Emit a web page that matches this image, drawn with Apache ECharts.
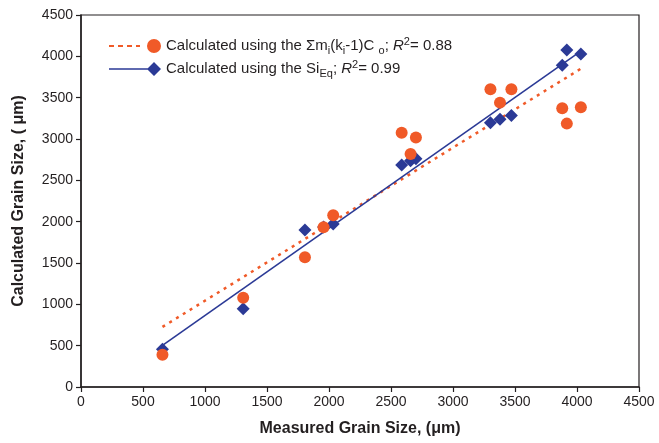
<!DOCTYPE html>
<html>
<head>
<meta charset="utf-8">
<script src="https://cdn.jsdelivr.net/npm/echarts@6/dist/echarts.min.js"></script>
<style>
  html, body { margin: 0; padding: 0; background: #fff; }
  #main { width: 659px; height: 443px; }
</style>
</head>
<body>
<div id="main"></div>
<script>
// measured grain size (x) for each sample
var measured = [657, 1308, 1806, 1956, 2034, 2586, 2658, 2701, 3302, 3379, 3471, 3881, 3918, 4031];
// calculated with the sum m_i(k_i-1)C_o method
var calcSum = [390, 1081, 1569, 1932, 2078, 3077, 2819, 3017, 3602, 3440, 3602, 3372, 3186, 3384];
// calculated with Si_Eq
var calcSiEq = [456, 948, 1900, 1935, 1972, 2686, 2738, 2762, 3198, 3239, 3283, 3893, 4078, 4029];

var nameSum = 'sum';
var nameSi = 'sieq';
var orange = '#F05A28';
var blue = '#2B3A96';

function pairs(xs, ys) {
  var out = [];
  for (var i = 0; i < xs.length; i++) out.push([xs[i], ys[i]]);
  return out;
}

// least squares line between min and max x
function trend(xs, ys) {
  var n = xs.length, mx = 0, my = 0;
  for (var i = 0; i < n; i++) { mx += xs[i]; my += ys[i]; }
  mx /= n; my /= n;
  var sxy = 0, sxx = 0;
  for (var i = 0; i < n; i++) {
    sxy += (xs[i] - mx) * (ys[i] - my);
    sxx += (xs[i] - mx) * (xs[i] - mx);
  }
  var b = sxy / sxx, a = my - b * mx;
  var x0 = Math.min.apply(null, xs), x1 = Math.max.apply(null, xs);
  return [[x0, a + b * x0], [x1, a + b * x1]];
}

var chart = echarts.init(document.getElementById('main'));

var ff = 'Liberation Sans, Arial';
var rich = {
  t: { fontSize: 15, color: '#231F20', fontFamily: ff, lineHeight: 20 },
  s: { fontSize: 11, color: '#231F20', fontFamily: ff, lineHeight: 12, verticalAlign: 'bottom' },
  p: { fontSize: 11, color: '#231F20', fontFamily: ff, lineHeight: 12, verticalAlign: 'top' },
  it: { fontSize: 15, color: '#231F20', fontFamily: ff, lineHeight: 20, fontStyle: 'italic' }
};

var axisCommon = {
  type: 'value',
  min: 0, max: 4500, interval: 500,
  nameLocation: 'middle',
  nameTextStyle: { fontSize: 16, fontWeight: 'bold', color: '#231F20', fontFamily: ff },
  axisLine: { show: true, lineStyle: { color: '#231F20', width: 1.5 } },
  axisTick: { show: true, inside: false, length: 5, lineStyle: { color: '#231F20', width: 1.2 } },
  axisLabel: { fontSize: 14, color: '#231F20', margin: 8, fontFamily: ff, formatter: function (v) { return String(v); } },
  splitLine: { show: false }
};

var option = {
  backgroundColor: '#fff',
  animation: false,
  grid: { left: 81, right: 20, top: 15, bottom: 56, show: true, borderColor: '#231F20', borderWidth: 1.2 },
  legend: {
    orient: 'vertical',
    left: 104,
    top: 31,
    itemGap: 3,
    itemWidth: 52,
    itemHeight: 14,
    data: [
      { name: nameSum, icon: 'path://M0,6L5,6L5,8L0,8ZM9,6L14,6L14,8L9,8ZM18,6L23,6L23,8L18,8ZM27,6L31,6L31,8L27,8ZM38,7A7,7,0,1,0,52,7A7,7,0,1,0,38,7Z' },
      { name: nameSi, icon: 'path://M0,6.3L40,6.3L40,7.7L0,7.7ZM45,0L52,7L45,14L38,7Z' }
    ],
    formatter: function (n) {
      if (n === nameSum) return '{t|Calculated using the Σm}{s|i}{t|(k}{s|i}{t|-1)C }{s|o}{t|; }{it|R}{p|2}{t|= 0.88}';
      return '{t|Calculated using the Si}{s|Eq}{t|; }{it|R}{p|2}{t|= 0.99}';
    },
    textStyle: { rich: rich }
  },
  xAxis: Object.assign({}, axisCommon, { name: 'Measured Grain Size, (μm)', nameGap: 34 }),
  yAxis: Object.assign({}, axisCommon, { name: 'Calculated Grain Size, ( μm)', nameGap: 54 }),
  series: [
    {
      name: 'trendSum', type: 'line', data: trend(measured, calcSum),
      showSymbol: false, z: 2,
      lineStyle: { color: orange, width: 2.5, type: [3, 5] }
    },
    {
      name: 'trendSi', type: 'line', data: trend(measured, calcSiEq),
      showSymbol: false, z: 3,
      lineStyle: { color: blue, width: 1.6 }
    },
    {
      name: nameSi, type: 'scatter', data: pairs(measured, calcSiEq),
      symbol: 'diamond', symbolSize: 13, z: 4,
      itemStyle: { color: blue, opacity: 1 }
    },
    {
      name: nameSum, type: 'scatter', data: pairs(measured, calcSum),
      symbol: 'circle', symbolSize: 12, z: 5,
      itemStyle: { color: orange, opacity: 1 }
    }
  ]
};

chart.setOption(option);
</script>
</body>
</html>
